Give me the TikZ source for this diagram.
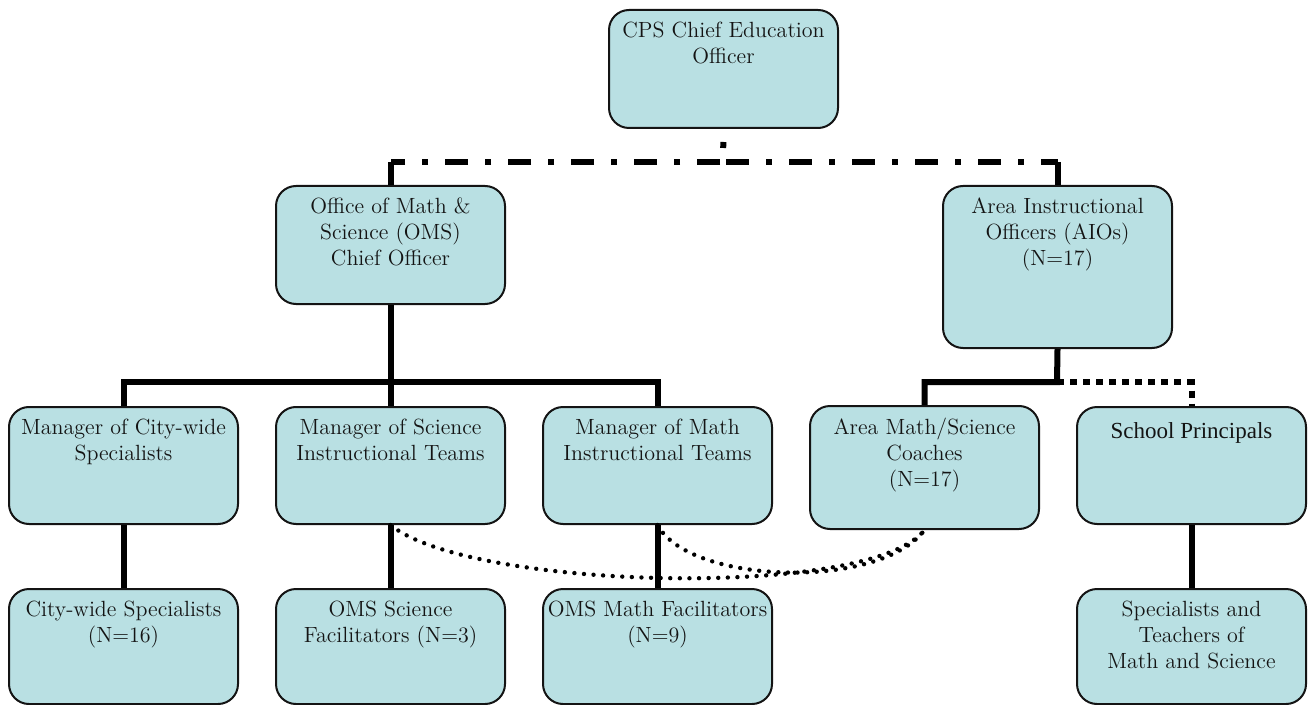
\documentclass[tikz,border=0pt]{standalone}
\usepackage{fontspec}
\newfontfamily\timesfont{Liberation Serif}
\usetikzlibrary{positioning}
\definecolor{boxfill}{HTML}{B9E0E3}
\definecolor{ink}{HTML}{141414}
\tikzset{
  orgbox/.style={rectangle, rounded corners=10pt, draw=ink, line width=1pt, fill=boxfill,
                 anchor=north west, minimum width=114.5pt, minimum height=58.5pt, inner sep=0pt},
  txt/.style={anchor=north, align=center, inner sep=0pt, yshift=-6.2pt, text=ink,
              font=\fontsize{11}{13}\selectfont, execute at begin node=\strut},
  tree/.style={draw=black, line width=3pt},
  dashdot/.style={draw=black, line width=3pt, dash pattern=on 11.5pt off 8.5pt on 3pt off 8.5pt},
  rounddots/.style={draw=black, line width=2.2pt, line cap=round, dash pattern=on 0pt off 4.8pt},
  sqdots/.style={draw=black, line width=3pt, dash pattern=on 3.5pt off 3pt}
}

\begin{document}
\begin{tikzpicture}[x=0.5pt, y=-0.5pt]
  \useasboundingbox (0,0) rectangle (1309,705);

  % top
  \node[orgbox, minimum height=59pt, label={[txt]north:{CPS Chief Education\\Officer}}] (cps) at (608,9) {};

  % second level
  \node[orgbox, minimum height=59pt, label={[txt]north:{Office of Math \&\\Science (OMS)\\Chief Officer}}] (oms) at (275,185) {};
  \node[orgbox, minimum height=81pt, label={[txt]north:{Area Instructional\\Officers (AIOs)\\(N=17)}}] (aio) at (942,185) {};

  % managers
  \node[orgbox, label={[txt]north:{Manager of City-wide\\Specialists}}] (mcw) at (8,406) {};
  \node[orgbox, label={[txt]north:{Manager of Science\\Instructional Teams}}] (msci) at (275,406) {};
  \node[orgbox, label={[txt]north:{Manager of Math\\Instructional Teams}}] (mmath) at (542,406) {};
  \node[orgbox, minimum height=61.5pt, label={[txt]north:{Area Math/Science\\Coaches\\(N=17)}}] (coach) at (809,405) {};
  \node[orgbox, label={[txt, font=\timesfont\fontsize{11.5}{13}\selectfont, yshift=-0.5pt]north:{School Principals}}] (princ) at (1076,406) {};

  % bottom row
  \node[orgbox, minimum height=57.5pt, label={[txt]north:{City-wide Specialists\\(N=16)}}] (cws) at (8,588) {};
  \node[orgbox, minimum height=57.5pt, label={[txt]north:{OMS Science\\Facilitators (N=3)}}] (sfac) at (275,588) {};
  \node[orgbox, minimum height=57.5pt, label={[txt]north:{OMS Math Facilitators\\(N=9)}}] (mfac) at (542,588) {};
  \node[orgbox, minimum height=57.5pt, label={[txt]north:{Specialists and\\Teachers of\\Math and Science}}] (spec) at (1076,588) {};

  \coordinate (topbar) at (723,162);
  \coordinate (omsbar) at (389,382);
  \coordinate (aiobar) at (1057,382);

  % dash-dot link under the chief
  \draw[dashdot, dash phase=13.5pt] (cps.south) -- (topbar);
  \draw[dashdot, dash phase=30pt] (topbar) -- (oms.north |- topbar);
  \draw[dashdot, dash phase=30pt] (topbar) -- (aio.north |- topbar);
  \draw[tree] (oms.north |- topbar) -- (oms.north);
  \draw[tree] (aio.north |- topbar) -- (aio.north);

  % OMS tree
  \draw[tree] (oms.south) -- (msci.north);
  \draw[tree] (mcw.north) |- (omsbar) -| (mmath.north);
  \foreach \a/\b in {mcw/cws,msci/sfac,mmath/mfac,princ/spec}
     \draw[tree] (\a.south) -- (\b.north);

  % AIO tree
  \draw[tree] (aio.south) -- (aiobar) -| (coach.north);
  \draw[sqdots] (aiobar) -| (princ.north);

  % coaching links
  \draw[rounddots] (msci.south) .. controls (470,590) and (870,600) .. (coach.south);
  \draw[rounddots] (mmath.south) .. controls (690,585) and (880,590) .. (coach.south);
\end{tikzpicture}
\end{document}
